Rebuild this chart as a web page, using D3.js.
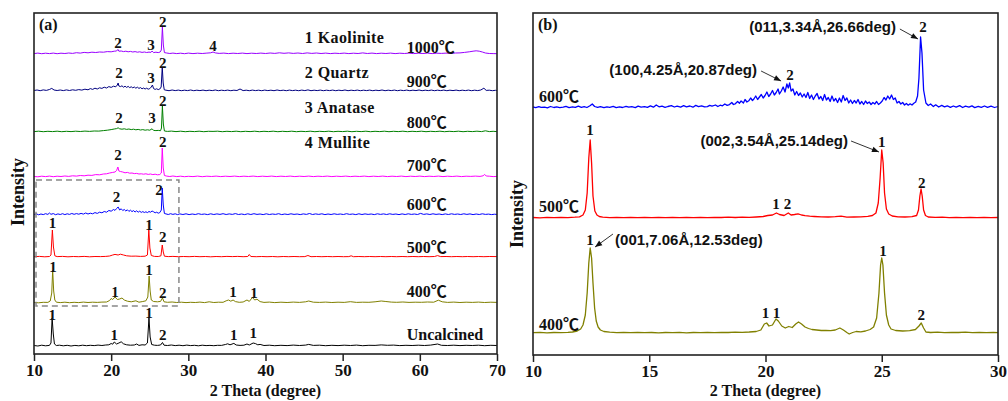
<!DOCTYPE html>
<html>
<head>
<meta charset="utf-8">
<script src="https://cdn.jsdelivr.net/npm/d3@7"></script>
<style>
body { margin: 0; background: #fff; }
svg text { font-family: "Liberation Serif", "Times New Roman", "Noto Sans CJK SC", serif; font-weight: bold; fill: #111; }
svg text.hkl { font-family: "Liberation Sans", Arial, sans-serif; }
</style>
</head>
<body>
<svg id="chart" width="1008" height="401"></svg>
<script>
// ---- panel (a) data: [2theta, intensity above own baseline] ----
const uncalcinedA = [[10,0.5],[10.5,0],[11,0.8],[11.5,0.2],[12,0.6],[12.2,3],[12.35,28],[12.5,12],[12.65,2],[12.9,0.5],[13.3,0.8],[13.8,0.2],[14.3,0.7],[14.8,0],[15.3,0.6],[15.8,0.2],[16.3,0.8],[16.8,0.3],[17.3,0.7],[17.8,0.4],[18.3,0.9],[18.8,0.5],[19.3,1],[19.7,1.2],[20.0,2.5],[20.2,1.8],[20.4,4],[20.7,2],[21.0,3],[21.3,4.2],[21.6,2.2],[22.0,1.2],[22.5,0.8],[23.0,1],[23.3,2],[23.6,0.6],[24.0,1.2],[24.4,1],[24.7,3],[24.9,28],[25.05,9],[25.25,1.5],[25.6,0.8],[26.0,0.6],[26.4,1],[26.65,3.5],[26.85,0.8],[27.3,0.5],[27.8,1],[28.3,0.4],[28.8,0.8],[29.3,0.3],[29.8,0.9],[30.3,0.4],[30.8,0.7],[31.3,0.2],[31.8,0.8],[32.3,0.4],[32.8,0.6],[33.3,0.3],[33.8,0.7],[34.3,0.6],[34.8,1.5],[35.1,2.2],[35.4,1.2],[35.9,2.6],[36.2,1],[36.7,0.6],[37.2,0.8],[37.6,2],[37.9,1],[38.4,3],[38.7,2.4],[39.0,1.2],[39.3,1.6],[39.8,0.5],[40.5,0.8],[41.2,0.3],[42,0.7],[42.8,0.4],[43.6,0.9],[44.4,0.5],[45.2,0.9],[45.6,1.6],[46.2,0.6],[47,0.8],[47.8,0.3],[48.6,0.7],[49.4,0.4],[50.2,0.8],[51,0.5],[51.8,0.9],[52.6,0.3],[53.4,0.7],[54.2,0.6],[55,1.1],[55.8,0.7],[56.6,0.9],[57.4,0.4],[58.2,0.7],[59,0.5],[59.8,0.8],[60.6,0.5],[61.4,0.9],[62.3,2],[62.8,0.7],[63.6,0.5],[64.4,0.8],[65.2,0.4],[66,0.7],[66.8,0.5],[67.6,0.8],[68.4,0.3],[69.2,0.7],[70,0.5]];

const c400A = [[10,0.5],[10.6,0.2],[11.2,0.7],[11.8,0.6],[12.1,2],[12.3,10],[12.42,33],[12.55,12],[12.7,3],[12.9,0.8],[13.4,0.4],[14,0.8],[14.6,0.3],[15.2,0.7],[15.8,0.4],[16.4,0.9],[17,0.5],[17.6,0.8],[18.2,0.6],[18.8,0.9],[19.4,1],[19.8,2.5],[20.0,4.5],[20.2,3.5],[20.5,6],[20.8,3.5],[21.1,4],[21.4,5],[21.7,3],[22.1,1.8],[22.6,1.2],[23.2,2.2],[23.6,0.8],[24.1,1.5],[24.5,2.2],[24.75,6],[24.92,27],[25.05,12],[25.2,3],[25.5,1.5],[26.0,1.2],[26.4,1.6],[26.65,5],[26.85,1.2],[27.3,0.7],[27.9,1],[28.5,0.5],[29.1,0.8],[29.7,0.4],[30.3,0.7],[30.9,0.5],[31.5,0.9],[32.1,0.4],[32.7,1.2],[33.3,0.5],[33.9,0.8],[34.5,0.7],[34.9,2.2],[35.2,3],[35.5,1.8],[35.8,3],[36.1,1.4],[36.6,0.7],[37.1,1],[37.6,3],[37.9,1.6],[38.3,5.5],[38.6,3],[38.9,3.8],[39.3,1.4],[39.8,0.6],[40.5,0.9],[41.2,0.4],[42,0.8],[42.8,0.5],[43.6,0.9],[44.4,0.6],[45.2,1.2],[45.6,2],[46.2,0.8],[47,0.6],[47.8,0.9],[48.6,0.5],[49.4,0.8],[50.2,0.6],[51,1.3],[51.8,0.6],[52.6,0.8],[53.4,0.7],[54.2,1.2],[55,2],[55.6,1.5],[56.3,0.9],[57,0.7],[57.8,1],[58.6,0.6],[59.4,0.8],[60.2,0.7],[61,1],[61.8,0.8],[62.4,2.8],[62.9,1.2],[63.6,0.6],[64.4,0.9],[65.2,0.5],[66,0.8],[66.8,0.6],[67.6,0.9],[68.4,0.5],[69.2,0.8],[70,0.6]];

const c500A = [[10,0.3],[10.7,0.6],[11.4,0.2],[12.0,0.5],[12.2,2],[12.38,27],[12.52,10],[12.7,1.2],[13,0.4],[13.7,0.6],[14.4,0.2],[15.1,0.5],[15.8,0.3],[16.5,0.6],[17.2,0.2],[17.9,0.5],[18.6,0.4],[19.3,0.6],[19.8,1],[20.2,2],[20.5,2.6],[20.9,2],[21.2,2.8],[21.6,2],[22,1.2],[22.6,0.8],[23.2,0.9],[23.8,0.6],[24.4,0.8],[24.7,2],[24.88,27],[25.02,9],[25.2,1.5],[25.6,0.6],[26.1,0.5],[26.45,1.2],[26.62,12],[26.75,5],[26.9,0.8],[27.4,0.4],[28,0.6],[28.7,0.3],[29.4,0.5],[30.1,0.3],[30.8,0.6],[31.5,0.3],[32.2,0.5],[32.9,0.2],[33.6,0.5],[34.3,0.3],[35,0.6],[35.7,0.4],[36.4,0.6],[37.1,0.3],[37.7,0.5],[37.9,2.5],[38.1,0.5],[38.8,0.3],[39.5,0.5],[40.2,0.3],[40.9,0.5],[41.6,0.2],[42.3,0.5],[43,0.3],[43.7,0.5],[44.4,0.3],[45.1,0.4],[45.5,1.5],[45.9,0.3],[46.6,0.5],[47.3,0.3],[48,0.5],[48.7,0.3],[49.4,0.5],[50.1,0.3],[50.8,0.4],[51.1,1.2],[51.4,0.3],[52.1,0.5],[52.8,0.3],[53.5,0.5],[54.2,0.3],[54.9,0.5],[55.6,0.3],[56.3,0.5],[57,0.3],[57.7,0.5],[58.4,0.3],[59.1,0.5],[59.8,0.3],[60.5,0.5],[61.2,0.3],[61.9,0.5],[62.3,1.4],[62.7,0.4],[63.4,0.5],[64.1,0.3],[64.8,0.5],[65.5,0.3],[66.2,0.5],[66.9,0.3],[67.6,0.5],[68.3,0.3],[69,0.5],[70,0.4]];

const c600A = [[10,0.5],[10.3,1.2],[10.6,0.2],[10.9,1],[11.2,0.4],[11.5,1.3],[11.8,0.6],[12.0,2],[12.2,0.7],[12.5,1.4],[12.8,0.3],[13.1,1.1],[13.4,0.5],[13.7,1.3],[14,0.4],[14.3,1.2],[14.6,0.6],[14.9,1.5],[15.2,0.7],[15.5,1.4],[15.8,0.8],[16.1,1.6],[16.4,0.9],[16.7,2],[17,1],[17.3,1.8],[17.6,1.2],[17.9,2.4],[18.2,1.6],[18.5,2.8],[18.8,2.2],[19.1,3.5],[19.4,2.8],[19.7,4.5],[20,3.8],[20.3,5.5],[20.5,4.6],[20.7,6.5],[20.9,8],[21.1,5],[21.3,6.2],[21.5,4.5],[21.7,5.5],[21.9,4],[22.1,5.2],[22.3,3.6],[22.5,4.8],[22.7,3.4],[22.9,4.4],[23.1,3],[23.3,4.2],[23.5,2.8],[23.7,3.8],[23.9,2.6],[24.1,3.4],[24.3,2.5],[24.5,3.2],[24.7,2.4],[24.9,3.5],[25.1,2.8],[25.3,4],[25.5,3.2],[25.7,2.2],[25.9,2.8],[26.1,1.8],[26.3,2.4],[26.5,5],[26.62,27],[26.75,10],[26.9,1.5],[27.1,1.1],[27.4,0.5],[27.7,1.3],[28,0.6],[28.3,1.2],[28.6,0.4],[28.9,1.1],[29.3,0.5],[29.7,1.2],[30.1,0.4],[30.5,1],[30.9,0.5],[31.3,1.3],[31.7,0.6],[32.1,1],[32.5,0.4],[32.9,1.2],[33.3,0.5],[33.7,1.1],[34.1,0.6],[34.5,1.3],[34.9,0.5],[35.3,1.1],[35.7,0.6],[36.1,1.4],[36.5,0.5],[36.9,1],[37.3,0.4],[37.7,1.2],[38.1,0.5],[38.5,1.3],[38.9,0.6],[39.3,1],[39.7,0.4],[40.1,1.2],[40.5,0.5],[40.9,1],[41.3,0.6],[41.7,1.3],[42.1,0.4],[42.5,1],[42.9,0.5],[43.3,1.2],[43.7,0.6],[44.1,1],[44.5,0.4],[44.9,1.1],[45.3,0.6],[45.7,1.5],[46.1,0.5],[46.5,1.1],[46.9,0.6],[47.3,1.2],[47.7,0.4],[48.1,1],[48.5,0.5],[48.9,1.2],[49.3,0.6],[49.7,1],[50.1,0.5],[50.5,1.3],[50.9,0.6],[51.3,1],[51.7,0.4],[52.1,1.2],[52.5,0.5],[52.9,1.1],[53.3,0.6],[53.7,1],[54.1,0.4],[54.5,1.2],[54.9,0.6],[55.3,1.1],[55.7,0.5],[56.1,1.2],[56.5,0.6],[56.9,1],[57.3,0.4],[57.7,1.1],[58.1,0.5],[58.5,1.2],[58.9,0.6],[59.3,1],[59.7,0.5],[60.1,1.6],[60.5,0.6],[60.9,1.1],[61.3,0.5],[61.7,1.2],[62.1,0.6],[62.5,1],[62.9,0.4],[63.3,1.1],[63.7,0.5],[64.1,1.2],[64.5,0.6],[64.9,1],[65.3,0.5],[65.7,1.2],[66.1,0.6],[66.5,1.1],[66.9,0.4],[67.3,1],[67.7,0.5],[68.1,1.2],[68.5,0.6],[68.9,0.9],[69.3,0.4],[69.7,0.8],[70,0.5]];

const c700A = [[10,0.5],[10.5,0.2],[11,0.8],[11.5,0.4],[12,0.9],[12.5,0.3],[13,0.8],[13.5,0.5],[14,1],[14.5,0.6],[15,1.2],[15.5,0.9],[16,1.5],[16.5,1.2],[17,1.8],[17.5,1.6],[18,2.4],[18.5,2.2],[19,3],[19.4,3.2],[19.8,4],[20.2,4.6],[20.5,5],[20.7,6.5],[20.87,10],[21.0,6],[21.2,5.5],[21.5,5],[21.8,4.2],[22.1,4.6],[22.4,3.8],[22.7,4],[23,3.4],[23.3,3.6],[23.6,3],[23.9,3.2],[24.2,2.8],[24.5,3.2],[24.8,2.6],[25.1,3],[25.4,2.4],[25.7,2.8],[26,2.2],[26.3,2.5],[26.5,4],[26.62,29],[26.75,9],[26.9,1.5],[27.2,0.9],[27.6,0.5],[28,1],[28.5,0.4],[29,0.8],[29.5,0.3],[30,0.7],[30.6,0.4],[31.2,0.9],[31.8,0.3],[32.4,0.8],[33,0.5],[33.6,0.9],[34.2,0.4],[34.8,0.8],[35.4,0.5],[36,0.9],[36.6,0.4],[37.2,0.8],[37.8,0.5],[38.4,0.9],[39,0.4],[39.6,0.8],[40.2,0.5],[40.8,0.9],[41.4,0.4],[42,0.8],[42.6,0.5],[43.2,0.9],[43.8,0.4],[44.4,0.8],[45,0.5],[45.6,0.9],[46.2,0.4],[46.8,0.8],[47.4,0.5],[48,0.9],[48.6,0.4],[49.2,0.8],[49.8,0.5],[50.4,0.9],[51,0.4],[51.6,0.8],[52.2,0.5],[52.8,0.9],[53.4,0.4],[54,0.8],[54.6,0.5],[55.2,0.9],[55.8,0.4],[56.4,0.8],[57,0.5],[57.6,0.9],[58.2,0.4],[58.8,0.8],[59.4,0.5],[60,0.9],[60.6,0.4],[61.2,0.8],[61.8,0.5],[62.4,0.9],[63,0.4],[63.6,0.8],[64.2,0.5],[64.8,0.9],[65.4,0.4],[66,0.8],[66.6,0.6],[67.2,0.9],[67.8,0.6],[68.2,1.2],[68.4,2.6],[68.6,1],[69,0.8],[69.5,0.4],[70,0.6]];

const c800A = [[10,0.4],[10.6,0.8],[11.2,0.3],[11.8,0.7],[12.4,0.4],[13,0.8],[13.6,0.3],[14.2,0.7],[14.8,0.4],[15.4,0.8],[16,0.5],[16.6,0.9],[17.2,0.6],[17.8,1],[18.4,0.9],[19,1.4],[19.5,1.8],[20,2.4],[20.4,3],[20.7,3.4],[20.9,4.2],[21.1,3.2],[21.4,2.8],[21.7,3.2],[22,2.6],[22.3,3],[22.6,2.4],[22.9,2.8],[23.2,2.2],[23.5,2.6],[23.8,2],[24.1,2.4],[24.4,1.8],[24.7,2.2],[25,1.8],[25.3,3.2],[25.5,1.6],[25.8,1.4],[26.1,1.6],[26.4,1.3],[26.52,4],[26.64,26],[26.76,8],[26.9,1],[27.3,0.6],[27.8,0.9],[28.4,0.4],[29,0.8],[29.6,0.3],[30.2,0.7],[30.8,0.4],[31.4,0.8],[32,0.3],[32.6,0.7],[33.2,0.6],[33.8,0.8],[34.4,0.3],[35,0.7],[35.6,0.4],[36.2,0.8],[36.8,0.3],[37.4,0.7],[38,0.4],[38.6,0.8],[39.2,0.3],[39.8,0.7],[40.4,0.4],[41,0.8],[41.6,0.3],[42.2,0.7],[42.8,0.4],[43.4,0.8],[44,0.3],[44.6,0.7],[45.2,0.4],[45.8,0.8],[46.4,0.3],[47,0.7],[47.6,0.4],[48.2,0.8],[48.8,0.3],[49.4,0.7],[50,0.4],[50.6,0.8],[51.2,0.3],[51.8,0.7],[52.4,0.4],[53,0.8],[53.6,0.3],[54.2,0.7],[54.8,0.4],[55.4,0.8],[56,0.3],[56.6,0.7],[57.2,0.4],[57.8,0.8],[58.4,0.3],[59,0.7],[59.6,0.4],[60.2,0.8],[60.8,0.3],[61.4,0.7],[62,0.4],[62.6,0.8],[63.2,0.3],[63.8,0.7],[64.4,0.4],[65,0.8],[65.6,0.3],[66.2,0.7],[66.8,0.4],[67.4,0.8],[68,0.4],[68.5,1.2],[69,0.4],[69.5,0.7],[70,0.4]];

const c900A = [[10,0.5],[10.4,1],[10.8,0.3],[11.2,1.1],[11.6,0.6],[12,1.5],[12.3,2.6],[12.6,1],[13,0.5],[13.4,1],[13.8,0.4],[14.2,1.1],[14.6,0.5],[15,1.2],[15.4,0.7],[15.8,1.4],[16.2,0.9],[16.6,1.8],[17,1.2],[17.3,2.4],[17.6,1.6],[17.9,2.8],[18.2,2],[18.5,3.2],[18.8,2.6],[19.1,3.8],[19.4,3],[19.7,4.4],[20,3.6],[20.3,4.8],[20.6,4.2],[20.8,6],[20.9,8],[21,5],[21.2,4.4],[21.4,5.2],[21.6,3.8],[21.8,4.8],[22,3.6],[22.2,4.6],[22.4,3.4],[22.6,4.2],[22.8,3.2],[23,4],[23.2,2.8],[23.4,3.8],[23.6,2.6],[23.8,3.4],[24,2.2],[24.2,3],[24.4,2],[24.6,2.8],[24.8,1.8],[25,2.4],[25.2,4],[25.35,6],[25.5,2.4],[25.7,1.6],[25.9,2.2],[26.1,1.4],[26.3,2],[26.48,4],[26.62,24],[26.74,8],[26.88,1.2],[27.1,0.8],[27.5,0.3],[27.9,1],[28.3,0.4],[28.7,0.9],[29.1,0.3],[29.5,0.8],[29.9,0.4],[30.3,1],[30.7,0.3],[31.1,0.8],[31.5,0.4],[31.9,0.9],[32.3,0.3],[32.7,0.8],[33.1,0.4],[33.5,1],[33.9,0.3],[34.3,0.8],[34.7,0.4],[35.1,0.9],[35.5,0.3],[35.9,0.8],[36.3,0.5],[36.7,2],[37.1,0.4],[37.5,0.8],[37.9,0.3],[38.3,0.9],[38.7,0.4],[39.1,0.8],[39.5,0.3],[39.9,0.9],[40.3,0.4],[40.7,0.8],[41.1,0.3],[41.5,1],[41.9,0.4],[42.3,0.8],[42.7,0.3],[43.1,0.9],[43.5,0.4],[43.9,0.8],[44.3,0.3],[44.7,0.9],[45.1,0.4],[45.5,1.1],[45.9,0.3],[46.3,0.8],[46.7,0.4],[47.1,0.9],[47.5,0.3],[47.9,0.8],[48.3,0.4],[48.7,0.9],[49.1,0.3],[49.5,0.8],[49.9,0.4],[50.3,1],[50.7,0.3],[51.1,0.8],[51.5,0.4],[51.9,0.9],[52.3,0.3],[52.7,0.8],[53.1,0.4],[53.5,0.9],[53.9,0.3],[54.3,0.8],[54.7,0.4],[55.1,1],[55.5,0.3],[55.9,0.8],[56.3,0.4],[56.7,0.9],[57.1,0.3],[57.5,0.8],[57.9,0.4],[58.3,0.9],[58.7,0.3],[59.1,0.8],[59.5,0.4],[59.9,1],[60.3,0.3],[60.7,0.8],[61.1,0.4],[61.5,0.9],[61.9,0.3],[62.3,0.8],[62.7,0.4],[63.1,0.9],[63.5,0.3],[63.9,0.8],[64.3,0.4],[64.7,0.9],[65.1,0.3],[65.5,0.8],[65.9,0.4],[66.3,0.9],[66.7,0.3],[67.1,0.8],[67.5,0.4],[67.9,1],[68.3,2.8],[68.6,0.6],[69,0.8],[69.4,0.3],[69.8,0.7],[70,0.4]];

const c1000A = [[10,0.4],[10.5,0.9],[11,0.3],[11.5,0.8],[12,0.4],[12.5,0.9],[13,0.3],[13.5,0.8],[14,0.5],[14.5,1],[15,0.6],[15.5,1.3],[16,0.9],[16.5,1.6],[17,1.2],[17.5,1.8],[18,1.5],[18.5,2],[19,1.8],[19.5,2.4],[20,2.2],[20.4,2.8],[20.7,3],[20.87,4.5],[21.0,2.8],[21.3,3],[21.6,2.4],[21.9,2.8],[22.2,2.2],[22.5,2.6],[22.8,2],[23.1,2.4],[23.4,1.8],[23.7,2.2],[24,1.6],[24.3,2],[24.6,1.5],[24.9,1.9],[25.15,1.6],[25.3,3],[25.5,1.4],[25.8,1.8],[26.1,1.4],[26.35,2],[26.5,4],[26.64,27],[26.76,9],[26.9,1.4],[27.2,1],[27.6,0.5],[28,0.9],[28.5,0.4],[29,0.8],[29.5,0.3],[30,0.9],[30.6,0.4],[31.2,0.8],[31.8,0.5],[32.4,0.9],[32.9,1.2],[33.2,2],[33.5,1.1],[34,0.6],[34.6,0.9],[35.2,0.4],[35.8,0.8],[36.4,0.5],[37,0.9],[37.6,0.4],[38.2,0.8],[38.8,0.5],[39.4,0.9],[40,0.5],[40.6,1],[41.2,0.6],[41.8,1.2],[42.4,0.7],[43,1.1],[43.6,0.6],[44.2,1],[44.8,0.5],[45.4,1.1],[46,0.6],[46.6,1],[47.2,0.5],[47.8,0.9],[48.4,0.4],[49,0.8],[49.6,0.5],[50.2,0.9],[50.8,0.4],[51.4,0.8],[52,0.5],[52.6,1.1],[53.2,0.5],[53.8,0.9],[54.4,0.4],[55,0.8],[55.6,0.5],[56.2,0.9],[56.8,0.4],[57.4,0.8],[58,0.5],[58.6,0.9],[59.2,0.4],[59.8,0.8],[60.4,0.5],[61,0.9],[61.6,0.4],[62.2,0.8],[62.8,0.6],[63.4,0.9],[64,0.6],[64.6,1],[65.2,1.1],[65.8,1.6],[66.4,2.2],[66.9,2.8],[67.3,3.2],[67.7,2.8],[68.1,2],[68.5,1],[69,0.5],[69.5,0.4],[70,0.3]];

// stacking order bottom -> top, vertical offsets in intensity units
const namesA = ['Uncalcined', '400℃', '500℃', '600℃', '700℃', '800℃', '900℃', '1000℃'];
const offsetsA = [8, 51, 97, 139, 177, 222, 263, 300];
const tracesA = [uncalcinedA, c400A, c500A, c600A, c700A, c800A, c900A, c1000A];
const phases = ['1 Kaolinite', '2 Quartz', '3 Anatase', '4 Mullite'];
const ticksA = [10, 20, 30, 40, 50, 60, 70];

// peak marks: [trace index, 2theta, height of label above baseline, phase number]
const peakLabelsA = [
  [0,12.35,26,'1'],[0,20.4,6,'1'],[0,24.9,28,'1'],[0,26.7,6,'2'],[0,35.9,6,'1'],[0,38.4,8,'1'],
  [1,12.45,31,'1'],[1,20.5,6,'1'],[1,24.9,28,'1'],[1,26.7,5.5,'2'],[1,35.8,6,'1'],[1,38.5,5,'1'],
  [2,12.4,29,'1'],[2,24.9,27,'1'],[2,26.7,15,'2'],
  [3,20.7,13,'2'],[3,26.2,20,'2'],
  [4,20.9,17,'2'],[4,26.7,30,'2'],
  [5,21.0,9,'2'],[5,25.3,9,'3'],[5,26.7,26,'2'],
  [6,21.0,13,'2'],[6,25.15,8,'3'],[6,26.7,23,'2'],
  [7,20.9,6,'2'],[7,25.15,4,'3'],[7,26.7,27,'2'],[7,33.2,3.5,'4']
];

// ---- panel (b) data ----
const c400B = [[10,0.3],[10.3,0.6],[10.6,0.2],[10.9,0.5],[11.2,0.3],[11.5,0.6],[11.7,1],[11.9,2],[12.05,4],[12.15,8],[12.25,18],[12.33,40],[12.4,70],[12.46,85],[12.52,75],[12.58,50],[12.65,25],[12.72,12],[12.8,6],[12.9,3],[13.05,1.5],[13.3,0.8],[13.6,0.4],[13.9,0.7],[14.2,0.3],[14.5,0.6],[14.8,0.3],[15.1,0.5],[15.4,0.2],[15.7,0.5],[16,0.3],[16.3,0.6],[16.6,0.2],[16.9,0.5],[17.2,0.3],[17.5,0.6],[17.8,0.4],[18.1,0.7],[18.4,0.5],[18.7,0.8],[19,0.7],[19.3,1],[19.6,1.5],[19.8,3],[19.95,9],[20.05,10],[20.15,7],[20.3,8],[20.45,14],[20.55,12],[20.7,7],[20.85,5],[21.0,6.5],[21.15,5.5],[21.3,9],[21.42,11],[21.55,9],[21.7,6],[21.85,4.5],[22,3.5],[22.2,3],[22.4,2.5],[22.6,2.6],[22.8,2.4],[23,3],[23.2,5],[23.35,3],[23.5,0.5],[23.6,-1],[23.75,0.5],[23.9,1.5],[24.1,1.2],[24.3,2],[24.5,3.5],[24.65,6],[24.78,15],[24.88,40],[24.95,68],[25.0,75],[25.05,68],[25.12,40],[25.2,18],[25.3,8],[25.4,4],[25.6,2.5],[25.9,2],[26.2,2.3],[26.45,3.5],[26.6,7],[26.7,10],[26.8,5],[26.9,1],[27.1,0.5],[27.4,0.8],[27.7,0.3],[28,0.6],[28.3,0.5],[28.6,0.8],[28.9,0.3],[29.2,0.6],[29.5,0.4],[29.8,0.6],[30,0.4]];

const c500B = [[10,0.5],[10.3,0.2],[10.6,0.6],[10.9,0.3],[11.2,0.7],[11.5,0.4],[11.8,0.8],[12,1.2],[12.15,3],[12.25,8],[12.33,25],[12.4,60],[12.46,78],[12.52,55],[12.58,22],[12.66,7],[12.75,3],[12.85,1.5],[13,0.8],[13.3,0.4],[13.6,0.7],[13.9,0.3],[14.2,0.6],[14.5,0.3],[14.8,0.7],[15.1,0.4],[15.4,0.6],[15.7,0.3],[16,0.7],[16.3,0.4],[16.6,0.6],[16.9,0.3],[17.2,0.7],[17.5,0.4],[17.8,0.7],[18.1,0.5],[18.4,0.8],[18.7,0.5],[19,0.9],[19.3,0.6],[19.6,1],[19.9,1.5],[20.1,2.5],[20.3,3],[20.47,5],[20.6,3.5],[20.8,2.5],[20.98,5],[21.1,3],[21.25,3.5],[21.4,4.2],[21.55,3],[21.7,2.4],[21.9,1.8],[22.1,1.5],[22.4,1.2],[22.7,1],[23,1.3],[23.25,1.8],[23.5,0.8],[23.8,1],[24.1,1.2],[24.4,1.6],[24.6,2.5],[24.75,5],[24.85,15],[24.93,40],[25,68],[25.06,55],[25.12,25],[25.2,9],[25.3,4],[25.45,2],[25.7,1.2],[26,1],[26.3,1.3],[26.5,2.5],[26.58,8],[26.64,22],[26.69,29],[26.74,22],[26.8,8],[26.88,2.5],[27,1],[27.3,0.6],[27.6,0.8],[27.9,0.4],[28.2,0.7],[28.5,0.3],[28.8,0.6],[29.1,0.3],[29.4,0.6],[29.7,0.3],[30,0.5]];

const c600B = [[10,1],[10.12,0.4],[10.25,1.4],[10.35,0.6],[10.5,0.9],[10.62,0.2],[10.75,1.5],[10.9,0.5],[11.02,1.1],[11.15,0.3],[11.3,0.8],[11.42,1.6],[11.55,0.4],[11.7,1.2],[11.82,0.6],[11.95,1.9],[12.08,0.7],[12.2,1.3],[12.32,0.5],[12.45,2.2],[12.55,4],[12.65,1.5],[12.78,0.6],[12.9,1.4],[13.05,0.3],[13.18,1.1],[13.3,0.7],[13.45,1.6],[13.58,0.4],[13.72,1.2],[13.85,0.5],[14,1.7],[14.12,0.8],[14.25,1.3],[14.4,0.4],[14.52,1.9],[14.65,0.9],[14.8,1.4],[14.92,0.6],[15.05,2.1],[15.18,0.8],[15.3,3],[15.42,1.2],[15.55,1.8],[15.68,0.7],[15.8,1.5],[15.95,2.4],[16.08,1],[16.2,1.9],[16.35,0.9],[16.48,2.3],[16.6,1.2],[16.75,2],[16.88,0.8],[17,2.6],[17.12,1.4],[17.25,2.2],[17.38,1.1],[17.5,1.4],[17.6,2.6],[17.7,1.8],[17.85,3],[17.95,1.5],[18.05,2.8],[18.15,2.2],[18.25,4],[18.35,2.6],[18.45,3.4],[18.55,5.5],[18.62,3.5],[18.7,4.2],[18.8,6.5],[18.88,4.8],[18.95,7],[19.05,5],[19.12,8.5],[19.2,6],[19.28,7.2],[19.36,10],[19.44,7.5],[19.5,9],[19.58,12],[19.66,8.5],[19.74,11],[19.82,13.5],[19.9,10],[19.98,12.5],[20.06,16],[20.14,11.5],[20.22,14],[20.3,17.5],[20.38,13],[20.46,15.5],[20.54,19],[20.6,14],[20.68,17],[20.76,21],[20.84,16],[20.92,24],[20.98,20],[21.04,25],[21.1,17],[21.18,19],[21.26,13],[21.34,16.5],[21.42,12.5],[21.5,15],[21.58,11],[21.66,14],[21.74,10.5],[21.82,15.5],[21.9,9.5],[21.98,13],[22.06,8.5],[22.14,12],[22.22,14.5],[22.3,9],[22.38,11.5],[22.46,7.5],[22.54,13.5],[22.62,8],[22.7,10.5],[22.78,6.5],[22.86,12],[22.94,7],[23.02,9.5],[23.1,5.5],[23.18,10],[23.26,6],[23.34,12.5],[23.42,7.5],[23.5,10],[23.58,5],[23.66,8],[23.74,4.5],[23.82,7.5],[23.9,5],[23.98,8.5],[24.06,4],[24.14,6.5],[24.22,3.5],[24.3,7],[24.38,4.5],[24.46,6],[24.54,3.5],[24.62,5.5],[24.7,4],[24.78,6.5],[24.86,3.5],[24.94,5],[25.02,7],[25.1,10.5],[25.18,8],[25.26,12],[25.34,9],[25.42,13],[25.5,8.5],[25.58,10],[25.66,5],[25.74,6.5],[25.82,4],[25.9,5.5],[25.98,3],[26.06,4.5],[26.14,2.8],[26.22,4.2],[26.3,3],[26.38,4.8],[26.46,6],[26.54,12],[26.6,30],[26.67,71],[26.73,55],[26.8,18],[26.9,5],[27,2.5],[27.1,4],[27.22,1.5],[27.32,3.2],[27.45,1],[27.58,2.6],[27.7,1.2],[27.82,2.2],[27.95,0.6],[28.08,2],[28.2,0.9],[28.35,2.4],[28.48,0.5],[28.6,1.8],[28.75,0.8],[28.88,2.1],[29,0.4],[29.15,1.6],[29.28,0.7],[29.42,2],[29.55,0.6],[29.7,1.8],[29.85,0.5],[30,1.5]];

const namesB = ['400℃', '500℃', '600℃'];
const offsetsB = [22, 137, 247];
const tracesB = [c400B, c500B, c600B];
const ticksB = [10, 15, 20, 25, 30];

const peakLabelsB = [
  [0,12.45,88,'1'],[0,20.0,15,'1'],[0,20.47,15,'1'],[0,25.05,77,'1'],[0,26.7,13,'2'],
  [1,12.45,83,'1'],[1,20.45,9,'1'],[1,20.95,9,'2'],[1,25.0,71,'1'],[1,26.72,30,'2'],
  [2,21.05,28,'2'],[2,26.77,76,'2']
];

// (hkl, d-spacing, 2theta) notes: text spot, arrow start, arrow tip (2theta, intensity)
const hklNotes = [
  { text: '(001,7.06Å,12.53deg)', at: [13.53, 110], anchor: 'start', from: [13.44, 121], to: [12.67, 108] },
  { text: '(002,3.54Å,25.14deg)', at: [23.55, 209], anchor: 'end', from: [23.68, 214], to: [24.88, 203] },
  { text: '(100,4.25Å,20.87deg)', at: [19.63, 280], anchor: 'end', from: [19.81, 284], to: [20.67, 274] },
  { text: '(011,3.34Å,26.66deg)', at: [25.61, 323], anchor: 'end', from: [25.78, 326], to: [26.56, 316] }
];

const colorsA = ['#000000', '#808000', '#ff0000', '#0000ff', '#ff00ff', '#008000', '#000080', '#9900ff'];
const colorsB = ['#808000', '#ff0000', '#0000ff'];

const svg = d3.select('#chart');

svg.append('defs').append('marker')
    .attr('id', 'arrow')
    .attr('viewBox', '0 0 10 10')
    .attr('refX', 10).attr('refY', 5)
    .attr('markerWidth', 8).attr('markerHeight', 7)
    .attr('markerUnits', 'userSpaceOnUse')
    .attr('orient', 'auto')
  .append('path')
    .attr('d', 'M0,1 L10,5 L0,9 z')
    .attr('fill', '#111');

function drawPanel(p) {
    const g = svg.append('g');
    const x = d3.scaleLinear().domain(p.xDomain).range([p.left, p.right]);
    const y = d3.scaleLinear().domain(p.yDomain).range([p.bottom, p.top]);

    p.traces.forEach((data, i) => {
        const line = d3.line()
            .x(d => x(d[0]))
            .y(d => y(p.offsets[i] + d[1]));
        g.append('path')
            .datum(data)
            .attr('d', line)
            .attr('fill', 'none')
            .attr('stroke', p.colors[i])
            .attr('stroke-width', p.lineWidth)
            .attr('stroke-linejoin', 'round');
    });

    const axis = g.append('g')
        .attr('transform', `translate(0,${p.bottom})`)
        .call(d3.axisBottom(x).tickValues(p.ticks).tickSize(7).tickPadding(3).tickFormat(d3.format('d')));
    axis.attr('font-family', null).attr('font-size', null);
    axis.select('.domain').remove();
    axis.selectAll('line').attr('stroke', '#222').attr('stroke-width', 1.5);
    axis.selectAll('text').style('font-size', '17px').attr('fill', '#111');

    g.append('rect')
        .attr('x', p.left).attr('y', p.top)
        .attr('width', p.right - p.left).attr('height', p.bottom - p.top)
        .attr('fill', 'none').attr('stroke', '#222').attr('stroke-width', 1.6);

    g.append('text')
        .attr('x', (p.left + p.right) / 2).attr('y', 396)
        .attr('text-anchor', 'middle')
        .style('font-size', '16px')
        .text('2 Theta (degree)');

    g.append('text')
        .attr('transform', `translate(${p.yTitleX},${p.yTitleY}) rotate(-90)`)
        .attr('text-anchor', 'middle')
        .attr('dy', '0.35em')
        .style('font-size', '18px')
        .text('Intensity');

    g.append('text')
        .attr('x', p.left + 5).attr('y', 30)
        .style('font-size', '16px')
        .text(p.tag);

    p.peakLabels.forEach(([i, t, h, s]) => {
        g.append('text')
            .attr('x', x(t)).attr('y', y(p.offsets[i] + h))
            .attr('text-anchor', 'middle')
            .style('font-size', '15px')
            .text(s);
    });

    p.names.forEach((s, i) => {
        g.append('text')
            .attr('x', x(p.nameAt)).attr('y', y(p.offsets[i] + p.nameLift[i]))
            .style('font-size', '16px')
            .text(s);
    });

    return { g, x, y };
}

// (a) overview of all calcination temperatures
const a = drawPanel({
    xDomain: [10, 70], yDomain: [0, 341],
    left: 34, right: 497, top: 13, bottom: 354,
    traces: tracesA, offsets: offsetsA, colors: colorsA, lineWidth: 1,
    ticks: ticksA, tag: '(a)', yTitleX: 18, yTitleY: 192,
    peakLabels: peakLabelsA,
    names: namesA, nameAt: 58.3, nameLift: [6, 6, 4, 5.5, 6, 4, 4, 1.5]
});

// phase key
a.g.selectAll('.phase')
    .data(phases)
    .enter().append('text')
    .attr('class', 'phase')
    .attr('x', a.x(45.1))
    .attr('y', (d, i) => 43 + i * 35)
    .style('font-size', '16px')
    .style('letter-spacing', '0.4px')
    .text(d => d);

// dashed frame marking the range enlarged in (b)
a.g.append('rect')
    .attr('x', a.x(10.26)).attr('y', a.y(174))
    .attr('width', a.x(28.78) - a.x(10.26)).attr('height', a.y(48) - a.y(174))
    .attr('fill', 'none')
    .attr('stroke', '#888')
    .attr('stroke-width', 1.5)
    .attr('stroke-dasharray', '6,4');

// (b) 10-30 deg detail
const b = drawPanel({
    xDomain: [10, 30], yDomain: [0, 342],
    left: 533, right: 998, top: 13, bottom: 355,
    traces: tracesB, offsets: offsetsB, colors: colorsB, lineWidth: 1.3,
    ticks: ticksB, tag: '(b)', yTitleX: 517, yTitleY: 214,
    peakLabels: peakLabelsB,
    names: namesB, nameAt: 10.26, nameLift: [3, 6, 6]
});

hklNotes.forEach(n => {
    b.g.append('line')
        .attr('x1', b.x(n.from[0])).attr('y1', b.y(n.from[1]))
        .attr('x2', b.x(n.to[0])).attr('y2', b.y(n.to[1]))
        .attr('stroke', '#333').attr('stroke-width', 1)
        .attr('marker-end', 'url(#arrow)');
    b.g.append('text')
        .attr('class', 'hkl')
        .attr('x', b.x(n.at[0])).attr('y', b.y(n.at[1]))
        .attr('text-anchor', n.anchor)
        .style('font-size', '15px')
        .text(n.text);
});
</script>
</body>
</html>
